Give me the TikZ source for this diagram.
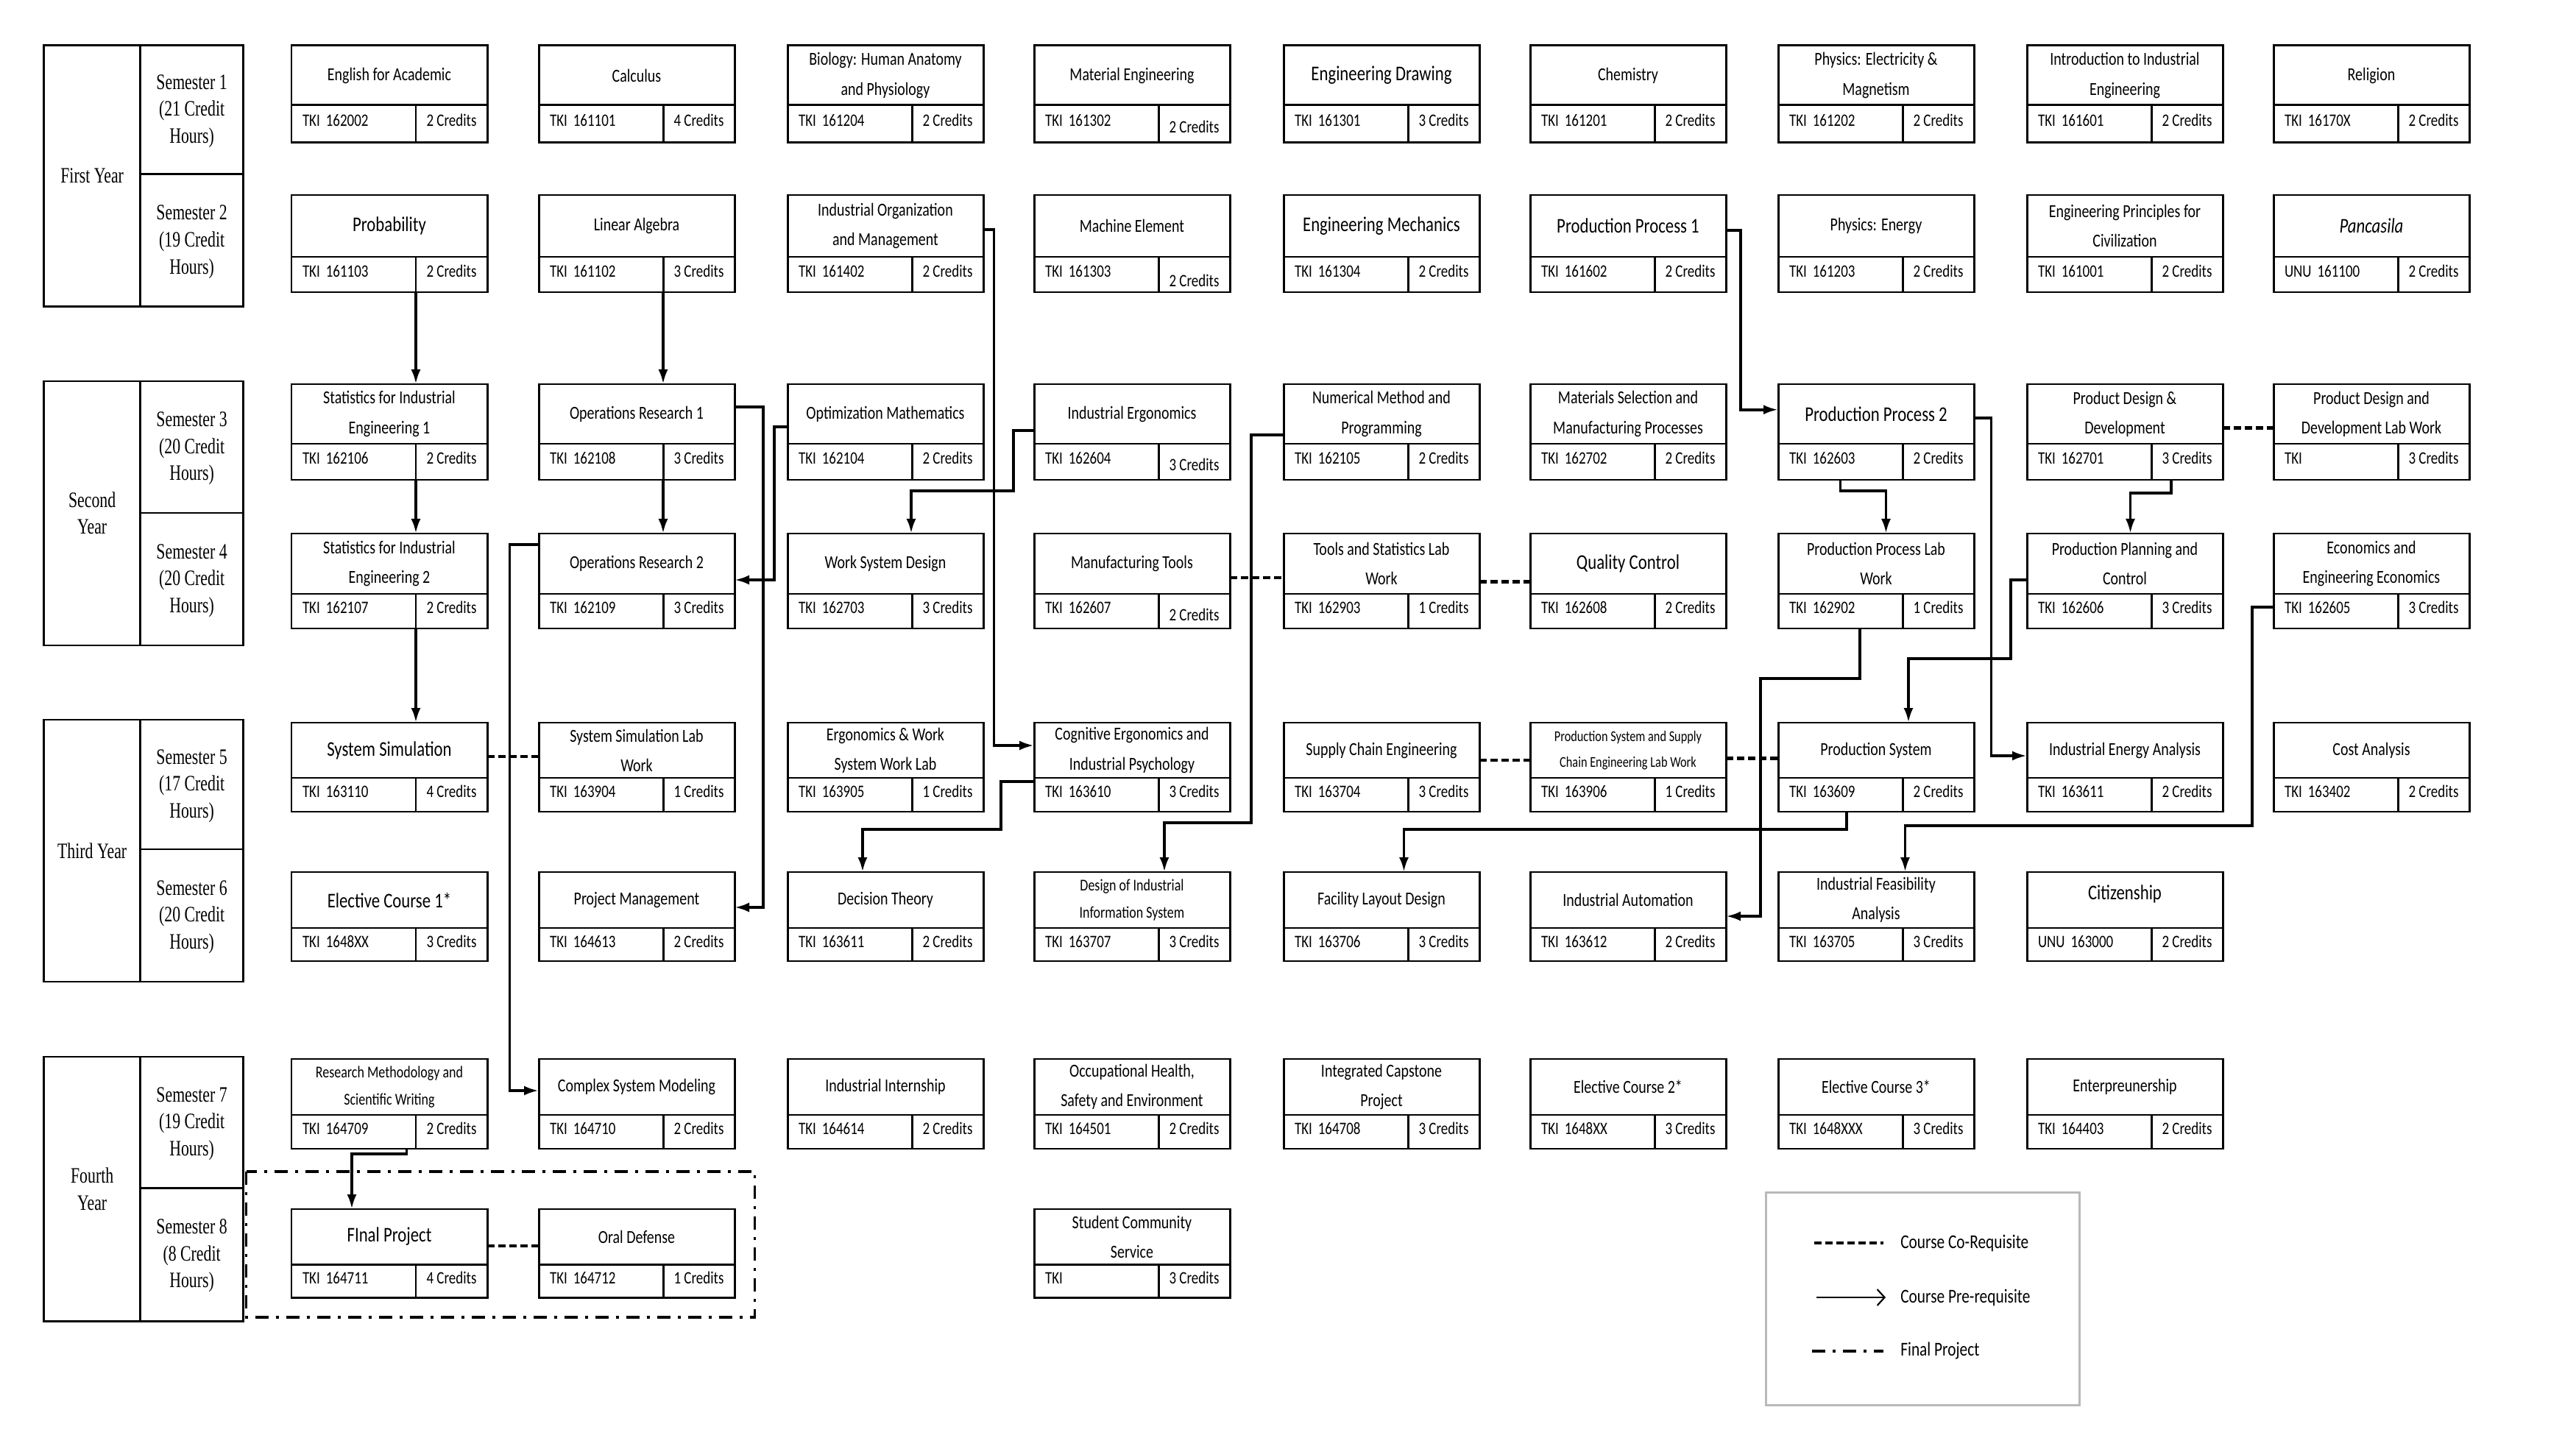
\documentclass[tikz,border=0pt]{standalone}
\usepackage{fontspec}
\setmainfont{Carlito}[FakeStretch=0.8]
\newfontfamily\serifnarrow{Liberation Serif}[FakeStretch=0.73]
\usetikzlibrary{arrows.meta}
\newcommand\tnorm{\fontsize{7.1}{11.4}\selectfont}
\newcommand\tbigf{\fontsize{8.1}{11.4}\selectfont}
\newcommand\tsmlf{\fontsize{6.4}{10.6}\selectfont}
\newcommand\ttnyf{\fontsize{5.8}{10.0}\selectfont}
\newcommand\cfont{\fontsize{6.75}{8}\selectfont}
\newcommand\lfont{\fontsize{7.6}{9}\selectfont}
\newcommand\yfont{\serifnarrow\fontsize{8.5}{10.4}\selectfont}
\newcommand\course[8]{%
  \node[tbox,th#3,anchor=north west,#4] (#1) at (#2,0 |- R#3) {#5};
  \node[cbox,ch#3,anchor=north west] (#1-c) at (#1.south west) {#6};
  \node[kbox,ch#3,anchor=north east,#8] (#1-k) at (#1.south east) {#7};}
\begin{document}
\begin{tikzpicture}[x=1cm,y=-1cm,
  tbox/.style={draw,line width=0.85pt,minimum width=2.66cm,inner sep=0pt,outer sep=0pt,align=center,font=\tnorm},
  tbig/.style={font=\tbigf},
  tsml/.style={font=\tsmlf},
  ttny/.style={font=\ttnyf},
  cbox/.style={draw,line width=0.85pt,minimum width=1.69cm,text width=1.39cm,inner xsep=0.15cm,inner ysep=0pt,outer sep=0pt,align=left,font=\cfont,text height=0.18cm,text depth=0.11cm},
  kbox/.style={draw,line width=0.85pt,minimum width=0.97cm,inner sep=0pt,outer sep=0pt,font=\cfont,text height=0.18cm,text depth=0.11cm},
  lowcr/.style={text height=0.27cm,text depth=0.02cm},
  th1/.style={minimum height=0.81cm}, ch1/.style={minimum height=0.51cm},
  th2/.style={minimum height=0.84cm}, ch2/.style={minimum height=0.48cm},
  th3/.style={minimum height=0.81cm}, ch3/.style={minimum height=0.49cm},
  th4/.style={minimum height=0.82cm}, ch4/.style={minimum height=0.47cm},
  th5/.style={minimum height=0.75cm}, ch5/.style={minimum height=0.46cm},
  th6/.style={minimum height=0.76cm}, ch6/.style={minimum height=0.45cm},
  th7/.style={minimum height=0.76cm}, ch7/.style={minimum height=0.46cm},
  th8/.style={minimum height=0.75cm}, ch8/.style={minimum height=0.45cm},
  ybox/.style={draw,line width=0.85pt,inner sep=0pt,outer sep=0pt,align=center,font=\yfont,anchor=north west},
  semb/.style={ybox,minimum width=1.40cm,text height=0.97cm},
  pre/.style={line width=1.1pt,-{Latex[length=0.2cm,width=0.13cm]}},
  coreq/.style={line width=1.3pt,dash pattern=on 0.1cm off 0.05cm},
  fpline/.style={line width=1.1pt,dash pattern=on 0.18cm off 0.1cm on 0.04cm off 0.1cm},
  legtext/.style={anchor=west,font=\lfont,inner sep=0pt}
]
\useasboundingbox (0,0) rectangle (35,19.69);
\fill[white] (0,0) rectangle (35,19.69);
\coordinate (R1) at (0,0.62);
\coordinate (R2) at (0,2.65);
\coordinate (R3) at (0,5.22);
\coordinate (R4) at (0,7.25);
\coordinate (R5) at (0,9.82);
\coordinate (R6) at (0,11.85);
\coordinate (R7) at (0,14.39);
\coordinate (R8) at (0,16.43);

% year table
\node[ybox,minimum width=1.309cm,minimum height=3.55cm] (y1) at (0.597,0.617) {First Year};
\node[semb,minimum height=1.75cm] (s1) at (1.906,0.617) {Semester 1\\(21 Credit\\Hours)};
\node[semb,minimum height=1.80cm] (s2) at (1.906,2.367) {Semester 2\\(19 Credit\\Hours)};
\node[ybox,minimum width=1.309cm,minimum height=3.59cm] (y2) at (0.597,5.18) {Second\\Year};
\node[semb,minimum height=1.79cm] (s3) at (1.906,5.18) {Semester 3\\(20 Credit\\Hours)};
\node[semb,minimum height=1.80cm] (s4) at (1.906,6.97) {Semester 4\\(20 Credit\\Hours)};
\node[ybox,minimum width=1.309cm,minimum height=3.56cm] (y3) at (0.597,9.78) {Third Year};
\node[semb,minimum height=1.76cm] (s5) at (1.906,9.78) {Semester 5\\(17 Credit\\Hours)};
\node[semb,minimum height=1.80cm] (s6) at (1.906,11.54) {Semester 6\\(20 Credit\\Hours)};
\node[ybox,minimum width=1.309cm,minimum height=3.59cm] (y4) at (0.597,14.36) {Fourth\\Year};
\node[semb,minimum height=1.78cm] (s7) at (1.906,14.36) {Semester 7\\(19 Credit\\Hours)};
\node[semb,minimum height=1.81cm] (s8) at (1.906,16.14) {Semester 8\\(8 Credit\\Hours)};

% row 1
\course{eng}{3.96}{1}{}{English for Academic}{TKI 162002}{2 Credits}{}
\course{calc}{7.32}{1}{}{Calculus}{TKI 161101}{4 Credits}{}
\course{bio}{10.70}{1}{}{Biology: Human Anatomy\\and Physiology}{TKI 161204}{2 Credits}{}
\course{mateng}{14.05}{1}{}{Material Engineering}{TKI 161302}{2 Credits}{lowcr}
\course{engdraw}{17.44}{1}{tbig}{Engineering Drawing}{TKI 161301}{3 Credits}{}
\course{chem}{20.79}{1}{}{Chemistry}{TKI 161201}{2 Credits}{}
\course{phyem}{24.16}{1}{}{Physics: Electricity \&\\Magnetism}{TKI 161202}{2 Credits}{}
\course{intro}{27.54}{1}{}{Introduction to Industrial\\Engineering}{TKI 161601}{2 Credits}{}
\course{rel}{30.89}{1}{}{Religion}{TKI 16170X}{2 Credits}{}
% row 2
\course{prob}{3.96}{2}{tbig}{Probability}{TKI 161103}{2 Credits}{}
\course{linalg}{7.32}{2}{}{Linear Algebra}{TKI 161102}{3 Credits}{}
\course{indorg}{10.70}{2}{}{Industrial Organization\\and Management}{TKI 161402}{2 Credits}{}
\course{mach}{14.05}{2}{}{Machine Element}{TKI 161303}{2 Credits}{text height=0.33cm,text depth=0cm}
\course{engmech}{17.44}{2}{tbig}{Engineering Mechanics}{TKI 161304}{2 Credits}{}
\course{pp1}{20.79}{2}{tbig}{Production Process 1}{TKI 161602}{2 Credits}{}
\course{phyen}{24.16}{2}{}{Physics: Energy}{TKI 161203}{2 Credits}{}
\course{engprin}{27.54}{2}{}{Engineering Principles for\\Civilization}{TKI 161001}{2 Credits}{}
\course{panc}{30.89}{2}{tbig}{\textit{Pancasila}}{UNU 161100}{2 Credits}{}
% row 3
\course{stat1}{3.96}{3}{}{Statistics for Industrial\\Engineering 1}{TKI 162106}{2 Credits}{}
\course{or1}{7.32}{3}{}{Operations Research 1}{TKI 162108}{3 Credits}{}
\course{optm}{10.70}{3}{}{Optimization Mathematics}{TKI 162104}{2 Credits}{}
\course{inderg}{14.05}{3}{}{Industrial Ergonomics}{TKI 162604}{3 Credits}{lowcr}
\course{nummeth}{17.44}{3}{}{Numerical Method and\\Programming}{TKI 162105}{2 Credits}{}
\course{matsel}{20.79}{3}{}{Materials Selection and\\Manufacturing Processes}{TKI 162702}{2 Credits}{}
\course{pp2}{24.16}{3}{tbig}{Production Process 2}{TKI 162603}{2 Credits}{}
\course{pdd}{27.54}{3}{}{Product Design \&\\Development}{TKI 162701}{3 Credits}{}
\course{pddlab}{30.89}{3}{}{Product Design and\\Development Lab Work}{TKI}{3 Credits}{}
% row 4
\course{stat2}{3.96}{4}{}{Statistics for Industrial\\Engineering 2}{TKI 162107}{2 Credits}{}
\course{or2}{7.32}{4}{}{Operations Research 2}{TKI 162109}{3 Credits}{}
\course{wsd}{10.70}{4}{}{Work System Design}{TKI 162703}{3 Credits}{}
\course{mtools}{14.05}{4}{}{Manufacturing Tools}{TKI 162607}{2 Credits}{lowcr}
\course{tslab}{17.44}{4}{}{Tools and Statistics Lab\\Work}{TKI 162903}{1 Credits}{}
\course{qc}{20.79}{4}{tbig}{Quality Control}{TKI 162608}{2 Credits}{}
\course{pplw}{24.16}{4}{}{Production Process Lab\\Work}{TKI 162902}{1 Credits}{}
\course{ppc}{27.54}{4}{}{Production Planning and\\Control}{TKI 162606}{3 Credits}{}
\course{eee}{30.89}{4}{}{Economics and\\Engineering Economics}{TKI 162605}{3 Credits}{}
% row 5
\course{syssim}{3.96}{5}{tbig}{System Simulation}{TKI 163110}{4 Credits}{}
\course{syslab}{7.32}{5}{}{System Simulation Lab\\Work}{TKI 163904}{1 Credits}{}
\course{ergolab}{10.70}{5}{}{Ergonomics \& Work\\System Work Lab}{TKI 163905}{1 Credits}{}
\course{cogerg}{14.05}{5}{}{Cognitive Ergonomics and\\Industrial Psychology}{TKI 163610}{3 Credits}{}
\course{sce}{17.44}{5}{}{Supply Chain Engineering}{TKI 163704}{3 Credits}{}
\course{pssce}{20.79}{5}{ttny}{Production System and Supply\\Chain Engineering Lab Work}{TKI 163906}{1 Credits}{}
\course{prodsys}{24.16}{5}{}{Production System}{TKI 163609}{2 Credits}{}
\course{iea}{27.54}{5}{}{Industrial Energy Analysis}{TKI 163611}{2 Credits}{}
\course{cost}{30.89}{5}{}{Cost Analysis}{TKI 163402}{2 Credits}{}
% row 6
\course{elec1}{3.96}{6}{tbig}{Elective Course 1*}{TKI 1648XX}{3 Credits}{}
\course{pm}{7.32}{6}{}{Project Management}{TKI 164613}{2 Credits}{}
\course{dect}{10.70}{6}{}{Decision Theory}{TKI 163611}{2 Credits}{}
\course{dis}{14.05}{6}{tsml}{Design of Industrial\\Information System}{TKI 163707}{3 Credits}{}
\course{fld}{17.44}{6}{}{Facility Layout Design}{TKI 163706}{3 Credits}{}
\course{indauto}{20.79}{6}{}{Industrial Automation}{TKI 163612}{2 Credits}{}
\course{ifa}{24.16}{6}{}{Industrial Feasibility\\Analysis}{TKI 163705}{3 Credits}{}
\course{citiz}{27.54}{6}{tbig,text depth=0.2cm}{Citizenship}{UNU 163000}{2 Credits}{}
% row 7
\course{rm}{3.96}{7}{tsml}{Research Methodology and\\Scientific Writing}{TKI 164709}{2 Credits}{}
\course{csm}{7.32}{7}{}{Complex System Modeling}{TKI 164710}{2 Credits}{}
\course{intern}{10.70}{7}{}{Industrial Internship}{TKI 164614}{2 Credits}{}
\course{ohse}{14.05}{7}{}{Occupational Health,\\Safety and Environment}{TKI 164501}{2 Credits}{}
\course{capstone}{17.44}{7}{}{Integrated Capstone\\Project}{TKI 164708}{3 Credits}{}
\course{elec2}{20.79}{7}{}{Elective Course 2*}{TKI 1648XX}{3 Credits}{}
\course{elec3}{24.16}{7}{}{Elective Course 3*}{TKI 1648XXX}{3 Credits}{}
\course{entre}{27.54}{7}{}{Enterpreunership}{TKI 164403}{2 Credits}{}
% row 8
\course{fp}{3.96}{8}{tbig}{FInal Project}{TKI 164711}{4 Credits}{}
\course{oral}{7.32}{8}{}{Oral Defense}{TKI 164712}{1 Credits}{}
\course{scs}{14.05}{8}{}{Student Community\\Service}{TKI}{3 Credits}{}

% prerequisite connectors
\draw[pre] (prob-c.south east) -- (prob-c.south east |- stat1.north);
\draw[pre] (linalg-c.south east) -- (linalg-c.south east |- or1.north);
\draw[pre] (stat1-c.south east) -- (stat1-c.south east |- stat2.north);
\draw[pre] (or1-c.south east) -- (or1-c.south east |- or2.north);
\draw[pre] (stat2-c.south east) -- (stat2-c.south east |- syssim.north);
\draw[pre] (or1.east |- 0,5.53) -| (10.37,12.33) -- (pm.east |- 0,12.33);
\draw[pre] (optm.west |- 0,5.80) -| (10.52,7.88) -- (or2.east |- 0,7.88);
\draw[pre] (or2.west |- 0,7.40) -| (6.925,14.82) -- (csm.west |- 0,14.82);
\draw[pre] (indorg.east |- 0,3.117) -| (13.505,10.13) -- (cogerg.west |- 0,10.13);
\draw[pre] (inderg.west |- 0,5.85) -| (13.77,6.67) -| (wsd.north -| 12.38,0);
\draw[pre] (nummeth.west |- 0,5.907) -| (17.0,11.18) -| (dis.north -| 15.82,0);
\draw[pre] (cogerg-c.west |- 0,10.617) -| (13.6,11.267) -| (dect.north -| 11.72,0);
\draw[pre] (pp1.east |- 0,3.13) -| (23.65,5.567) -- (pp2.west |- 0,5.567);
\draw[pre] (pp2-c.south -| 25.005,0) |- (25.625,6.67) -- (pplw.north -| 25.625,0);
\draw[pre] (pp2.east |- 0,5.677) -| (27.055,10.27) -- (iea.west |- 0,10.27);
\draw[pre] (pdd-k.south -| 29.5,0) |- (28.945,6.70) -- (ppc.north -| 28.945,0);
\draw[pre] (ppc.west |- 0,7.88) -| (27.32,8.95) -| (prodsys.north -| 25.93,0);
\draw[pre] (pplw-c.south -| 25.27,0) |- (23.92,9.217) |- (indauto.east |- 0,12.45);
\draw[pre] (eee-c.west |- 0,8.25) -| (30.60,11.22) -| (ifa.north -| 25.885,0);
\draw[pre] (prodsys-c.south -| 25.09,0) |- (19.075,11.27) -- (fld.north -| 19.075,0);
\draw[pre] (rm-c.south -| 5.525,0) |- (4.78,15.68) -- (fp.north -| 4.78,0);

% co-requisites
\draw[coreq] (syssim.east |- 0,10.28) -- (syslab.west |- 0,10.28);
\draw[coreq] (mtools.east |- 0,7.85) -- (tslab.west |- 0,7.85);
\draw[coreq] (tslab.east |- 0,7.907) -- (qc.west |- 0,7.907);
\draw[coreq] (pdd.east |- 0,5.817) -- (pddlab.west |- 0,5.817);
\draw[coreq] (sce.east |- 0,10.33) -- (pssce.west |- 0,10.33);
\draw[coreq] (pssce.east |- 0,10.307) -- (prodsys.west |- 0,10.307);
\draw[coreq] (fp.east |- 0,16.93) -- (oral.west |- 0,16.93);

% final project frame
\draw[fpline] (3.345,15.92) rectangle (10.255,17.90);

% legend
\node[draw=gray!55,line width=0.9pt,minimum width=4.26cm,minimum height=2.89cm,anchor=north west,inner sep=0pt] (leg) at (23.98,16.19) {};
\coordinate (l1a) at (24.645,16.89); \coordinate (l1b) at (25.586,16.89);
\coordinate (l2a) at (24.68,17.63); \coordinate (l2b) at (25.62,17.63);
\coordinate (l3a) at (24.62,18.356); \coordinate (l3b) at (25.59,18.356);
\draw[coreq] (l1a) -- (l1b);
\draw[line width=0.6pt,-{Straight Barb[length=0.1cm,width=0.22cm]}] (l2a) -- (l2b);
\draw[fpline] (l3a) -- (l3b);
\node[legtext] (lt1) at (25.816,16.89) {Course Co-Requisite};
\node[legtext] (lt2) at (25.816,17.63) {Course Pre-requisite};
\node[legtext] (lt3) at (25.816,18.356) {Final Project};
\end{tikzpicture}
\end{document}
